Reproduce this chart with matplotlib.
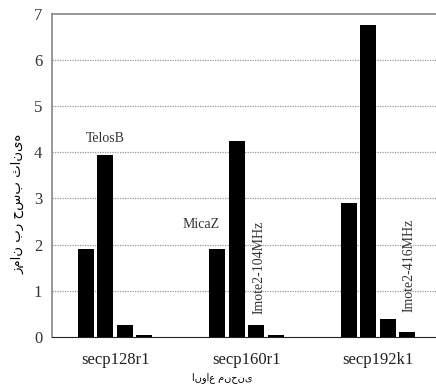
import matplotlib
matplotlib.use("Agg")
import matplotlib.pyplot as plt
import numpy as np

curves = ["secp128r1", "secp160r1", "secp192k1"]
telosb = [1.9, 1.9, 2.9]
micaz = [3.95, 4.25, 6.75]
imote104 = [0.25, 0.25, 0.38]
imote416 = [0.05, 0.05, 0.1]
yticks = [0, 1, 2, 3, 4, 5, 6, 7]

plt.rcParams['font.family'] = ['Liberation Serif', 'DejaVu Sans']

fig = plt.figure(figsize=(4.36, 3.85), dpi=100)
ax = fig.add_axes([0.119, 0.125, 0.881, 0.839])

x = np.arange(len(curves))
w = 0.12
step = 0.148
series = [telosb, micaz, imote104, imote416]
for i, vals in enumerate(series):
    ax.bar(x + (i - 1.5) * step, vals, width=w, color='black', zorder=3)

ax.set_xlim(-0.48, 2.44)
ax.set_ylim(0, 7)
ax.set_yticks(yticks)
ax.set_xticks(x)
ax.set_xticklabels(curves, fontsize=12, color='#222222')
ax.tick_params(axis='y', labelsize=12, length=0, pad=7, colors='#333333')
ax.tick_params(axis='x', length=0, pad=11)

for yv in yticks[1:-1]:
    ax.axhline(yv, color='#999999', linestyle=(0, (1, 1)), linewidth=0.9, zorder=1)

ax.spines['right'].set_visible(False)
ax.spines['top'].set_color('#888888')
ax.spines['left'].set_color('#888888')
ax.spines['bottom'].set_color('#222222')
ax.spines['top'].set_linewidth(1.2)
ax.spines['left'].set_linewidth(1.2)

ax.text(x[0] - 0.5 * step, 4.15, "TelosB", fontsize=10, ha='center', va='bottom', color='#333333')
ax.text(x[1] - 1.5 * step - 0.12, 2.3, "MicaZ", fontsize=10, ha='center', va='bottom', color='#333333')
ax.text(x[1] + 0.5 * step + 0.02, 1.5, "Imote2-104MHz", fontsize=10, rotation=90,
        ha='center', va='center', color='#333333')
ax.text(x[2] + 1.5 * step + 0.01, 1.55, "Imote2-416MHz", fontsize=10, rotation=90,
        ha='center', va='center', color='#333333')

fig.text(0.042, 0.47, "زمان بر حسب ثانیه", rotation=90, fontsize=9.5,
         ha='center', va='center', family=['DejaVu Sans'])
fig.text(0.51, 0.02, "انواع منحنی", fontsize=7, ha='center', va='center',
         family=['DejaVu Sans'])

fig.savefig("out.png", dpi=100)
